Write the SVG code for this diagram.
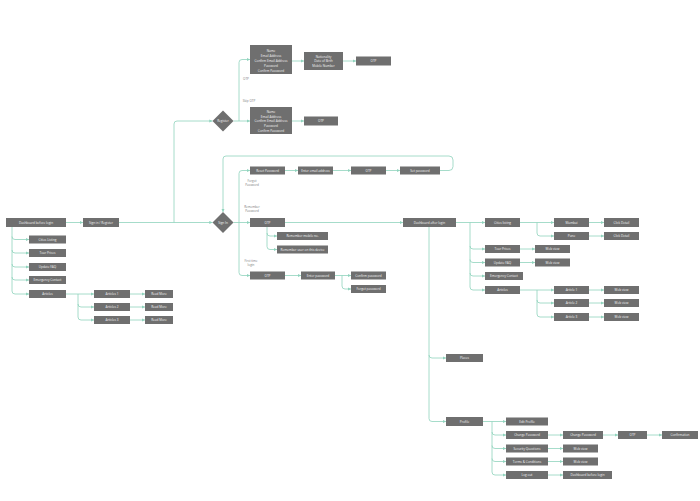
<svg xmlns="http://www.w3.org/2000/svg" width="700" height="501" viewBox="0 0 700 501">
<style>
.n rect,.n polygon{fill:#6f6f6f}
.n text{fill:#f4f4f4;font-family:"Open Sans","Liberation Sans",sans-serif;font-size:3.1px;text-anchor:middle}
.lbl{fill:#7a7a7a;font-family:"Open Sans","Liberation Sans",sans-serif;font-size:3px;text-anchor:middle}
#connectors path{fill:none;stroke:#8fd3bd;stroke-width:0.8;marker-end:url(#ar)}
</style>
<defs>
<marker id="ar" markerUnits="userSpaceOnUse" markerWidth="4" markerHeight="4" refX="3.2" refY="2" orient="auto"><path d="M0,0.4 L3.2,2 L0,3.6 Z" fill="#8fd3bd"/></marker>
</defs>
<rect width="700" height="501" fill="#ffffff"/>
<g id="connectors">
<path d="M66,222.5 H83"/>
<path d="M12,227 V291 Q12,294 15,294 H29"/>
<path d="M12,236.5 Q12,239.5 15,239.5 H29"/>
<path d="M12,250 Q12,253 15,253 H29"/>
<path d="M12,264 Q12,267 15,267 H29"/>
<path d="M12,277 Q12,280 15,280 H29"/>
<path d="M66,294 H94"/>
<path d="M78,294 V317 Q78,320 81,320 H94"/>
<path d="M78,304 Q78,307 81,307 H94"/>
<path d="M130,294 H145"/>
<path d="M130,307 H145"/>
<path d="M130,320 H145"/>
<path d="M119,222.5 H212.5"/>
<path d="M174,222.5 V124 Q174,121 177,121 H212.5"/>
<path d="M233.5,121 H250"/>
<path d="M239,121 V62.5 Q239,59.5 242,59.5 H250"/>
<path d="M292,61 H304"/>
<path d="M343,61 H356"/>
<path d="M292,121 H304"/>
<path d="M440,170.5 H449 Q453,170.5 453,166.5 V160 Q453,156 449,156 H226 Q223,156 223,159 V212"/>
<path d="M233.5,222.5 H250"/>
<path d="M239,222.5 V173.5 Q239,170.5 242,170.5 H250"/>
<path d="M239,222.5 V272.5 Q239,275.5 242,275.5 H250"/>
<path d="M285,170.5 H298"/>
<path d="M333,170.5 H351"/>
<path d="M386,170.5 H400"/>
<path d="M285,222.5 H403"/>
<path d="M267,227 V246.5 Q267,249.5 270,249.5 H277"/>
<path d="M267,233 Q267,236 270,236 H277"/>
<path d="M285,275.5 H301"/>
<path d="M335,275.5 H351"/>
<path d="M342,275.5 V286 Q342,289 345,289 H351"/>
<path d="M456,222.5 H485"/>
<path d="M470,222.5 V287 Q470,290 473,290 H485"/>
<path d="M470,246 Q470,249 473,249 H485"/>
<path d="M470,259.5 Q470,262.5 473,262.5 H485"/>
<path d="M470,273 Q470,276 473,276 H485"/>
<path d="M520,222.5 H554"/>
<path d="M537,222.5 V233 Q537,236 540,236 H554"/>
<path d="M589,222.5 H604"/>
<path d="M589,236 H604"/>
<path d="M520,249 H535"/>
<path d="M520,262.5 H535"/>
<path d="M520,290 H554"/>
<path d="M537,290 V314 Q537,317 540,317 H554"/>
<path d="M537,300 Q537,303 540,303 H554"/>
<path d="M589,290 H604"/>
<path d="M589,303 H604"/>
<path d="M589,317 H604"/>
<path d="M429,227 V418.5 Q429,421.5 432,421.5 H446"/>
<path d="M429,355 Q429,358 432,358 H446"/>
<path d="M483,421.5 H506"/>
<path d="M492,421.5 V472 Q492,475 495,475 H506"/>
<path d="M492,432 Q492,435 495,435 H506"/>
<path d="M492,445.5 Q492,448.5 495,448.5 H506"/>
<path d="M492,458.5 Q492,461.5 495,461.5 H506"/>
<path d="M548,435 H563"/>
<path d="M603,435 H618"/>
<path d="M647,435 H662"/>
<path d="M548,448.5 H563"/>
<path d="M548,461.5 H563"/>
<path d="M548,475 H563"/>
</g>
<g id="labels">
<text class="lbl" x="246" y="80">OTP</text>
<text class="lbl" x="249" y="102">Skip OTP</text>
<text class="lbl" x="252" y="181.5">Forgot</text>
<text class="lbl" x="252" y="185.5">Password</text>
<text class="lbl" x="252" y="208">Remember</text>
<text class="lbl" x="252" y="212">Password</text>
<text class="lbl" x="251" y="261.5">First time</text>
<text class="lbl" x="251" y="265.5">login</text>
</g>
<g id="dashboard-before-login" class="n"><rect x="6" y="218" width="60" height="9"/><text x="36" y="223.6">Dashboard before login</text></g>
<g id="sign-in-register" class="n"><rect x="83" y="218" width="36" height="9"/><text x="101" y="223.6">Sign in / Register</text></g>
<g id="b-cities" class="n"><rect x="29" y="235.5" width="37" height="8"/><text x="47.5" y="240.6">Cities Listing</text></g>
<g id="b-tour" class="n"><rect x="29" y="249" width="37" height="8"/><text x="47.5" y="254.1">Tour Prices</text></g>
<g id="b-faq" class="n"><rect x="29" y="263" width="37" height="8"/><text x="47.5" y="268.1">Update FAQ</text></g>
<g id="b-emergency" class="n"><rect x="29" y="276" width="37" height="8"/><text x="47.5" y="281.1">Emergency Contact</text></g>
<g id="b-articles" class="n"><rect x="29" y="290" width="37" height="8"/><text x="47.5" y="295.1">Articles</text></g>
<g id="b-article1" class="n"><rect x="94" y="290" width="36" height="8"/><text x="112" y="295.1">Articles 1</text></g>
<g id="b-article2" class="n"><rect x="94" y="303" width="36" height="8"/><text x="112" y="308.1">Articles 2</text></g>
<g id="b-article3" class="n"><rect x="94" y="316" width="36" height="8"/><text x="112" y="321.1">Articles 3</text></g>
<g id="b-read1" class="n"><rect x="145" y="290" width="28" height="8"/><text x="159" y="295.1">Read More</text></g>
<g id="b-read2" class="n"><rect x="145" y="303" width="28" height="8"/><text x="159" y="308.1">Read More</text></g>
<g id="b-read3" class="n"><rect x="145" y="316" width="28" height="8"/><text x="159" y="321.1">Read More</text></g>
<g id="register" class="n"><polygon points="223,110.5 233.5,121 223,131.5 212.5,121"/><text x="223" y="122.1">Register</text></g>
<g id="reg-form-otp" class="n"><rect x="250" y="45" width="42" height="29"/><text x="271" y="51.5">Name</text><text x="271" y="56.5">Email Address</text><text x="271" y="61.5">Confirm Email Address</text><text x="271" y="66.5">Password</text><text x="271" y="71.5">Confirm Password</text></g>
<g id="reg-details" class="n"><rect x="304" y="52" width="39" height="18"/><text x="323.5" y="57.5">Nationality</text><text x="323.5" y="62.3">Date of Birth</text><text x="323.5" y="67.1">Mobile Number</text></g>
<g id="reg-otp1" class="n"><rect x="356" y="56.5" width="35" height="9"/><text x="373.5" y="62.1">OTP</text></g>
<g id="reg-form-skip" class="n"><rect x="250" y="107" width="42" height="27"/><text x="271" y="112.8">Name</text><text x="271" y="117.6">Email Address</text><text x="271" y="122.4">Confirm Email Address</text><text x="271" y="127.2">Password</text><text x="271" y="132">Confirm Password</text></g>
<g id="reg-otp2" class="n"><rect x="304" y="116.5" width="34" height="9"/><text x="321" y="122.1">OTP</text></g>
<g id="sign-in" class="n"><polygon points="223,212 233.5,222.5 223,233 212.5,222.5"/><text x="223" y="223.6">Sign In</text></g>
<g id="reset-password" class="n"><rect x="250" y="166.5" width="35" height="8"/><text x="267.5" y="171.6">Reset Password</text></g>
<g id="enter-email" class="n"><rect x="298" y="166.5" width="35" height="8"/><text x="315.5" y="171.6">Enter email address</text></g>
<g id="forgot-otp" class="n"><rect x="351" y="166.5" width="35" height="8"/><text x="368.5" y="171.6">OTP</text></g>
<g id="set-password" class="n"><rect x="400" y="166.5" width="40" height="8"/><text x="420" y="171.6">Set password</text></g>
<g id="signin-otp" class="n"><rect x="250" y="218" width="35" height="9"/><text x="267.5" y="223.6">OTP</text></g>
<g id="remember-mobile" class="n"><rect x="277" y="232" width="51" height="8"/><text x="302.5" y="237.1">Remember mobile no.</text></g>
<g id="remember-device" class="n"><rect x="277" y="245.5" width="51" height="8"/><text x="302.5" y="250.6">Remember user on this device</text></g>
<g id="first-otp" class="n"><rect x="250" y="271.5" width="35" height="8"/><text x="267.5" y="276.6">OTP</text></g>
<g id="enter-password" class="n"><rect x="301" y="271.5" width="34" height="8"/><text x="318" y="276.6">Enter password</text></g>
<g id="confirm-password" class="n"><rect x="351" y="271.5" width="35" height="8"/><text x="368.5" y="276.6">Confirm password</text></g>
<g id="forgot-password" class="n"><rect x="351" y="285" width="35" height="8"/><text x="368.5" y="290.1">Forgot password</text></g>
<g id="dashboard-after-login" class="n"><rect x="403" y="218" width="53" height="9"/><text x="429.5" y="223.6">Dashboard after login</text></g>
<g id="a-cities" class="n"><rect x="485" y="218" width="35" height="9"/><text x="502.5" y="223.6">Cities listing</text></g>
<g id="a-mumbai" class="n"><rect x="554" y="218" width="35" height="9"/><text x="571.5" y="223.6">Mumbai</text></g>
<g id="a-pune" class="n"><rect x="554" y="232" width="35" height="8"/><text x="571.5" y="237.1">Pune</text></g>
<g id="a-click1" class="n"><rect x="604" y="218" width="35" height="9"/><text x="621.5" y="223.6">Click Detail</text></g>
<g id="a-click2" class="n"><rect x="604" y="232" width="35" height="8"/><text x="621.5" y="237.1">Click Detail</text></g>
<g id="a-tour" class="n"><rect x="485" y="245" width="35" height="8"/><text x="502.5" y="250.1">Tour Prices</text></g>
<g id="a-tour-web" class="n"><rect x="535" y="245" width="35" height="8"/><text x="552.5" y="250.1">Web view</text></g>
<g id="a-faq" class="n"><rect x="485" y="258.5" width="35" height="8"/><text x="502.5" y="263.6">Update FAQ</text></g>
<g id="a-faq-web" class="n"><rect x="535" y="258.5" width="35" height="8"/><text x="552.5" y="263.6">Web view</text></g>
<g id="a-emergency" class="n"><rect x="485" y="272" width="38" height="8"/><text x="504" y="277.1">Emergency Contact</text></g>
<g id="a-articles" class="n"><rect x="485" y="286" width="35" height="8"/><text x="502.5" y="291.1">Articles</text></g>
<g id="a-article1" class="n"><rect x="554" y="286" width="35" height="8"/><text x="571.5" y="291.1">Article 1</text></g>
<g id="a-article2" class="n"><rect x="554" y="299" width="35" height="8"/><text x="571.5" y="304.1">Article 2</text></g>
<g id="a-article3" class="n"><rect x="554" y="313" width="35" height="8"/><text x="571.5" y="318.1">Article 3</text></g>
<g id="a-web1" class="n"><rect x="604" y="286" width="35" height="8"/><text x="621.5" y="291.1">Web view</text></g>
<g id="a-web2" class="n"><rect x="604" y="299" width="35" height="8"/><text x="621.5" y="304.1">Web view</text></g>
<g id="a-web3" class="n"><rect x="604" y="313" width="35" height="8"/><text x="621.5" y="318.1">Web view</text></g>
<g id="places" class="n"><rect x="446" y="354" width="37" height="8"/><text x="464.5" y="359.1">Places</text></g>
<g id="profile" class="n"><rect x="446" y="417" width="37" height="9"/><text x="464.5" y="422.6">Profile</text></g>
<g id="edit-profile" class="n"><rect x="506" y="417.5" width="42" height="8"/><text x="527" y="422.6">Edit Profile</text></g>
<g id="change-password" class="n"><rect x="506" y="431" width="42" height="8"/><text x="527" y="436.1">Change Password</text></g>
<g id="security" class="n"><rect x="506" y="444.5" width="42" height="8"/><text x="527" y="449.6">Security Questions</text></g>
<g id="terms" class="n"><rect x="506" y="457.5" width="42" height="8"/><text x="527" y="462.6">Terms &amp; Conditions</text></g>
<g id="logout" class="n"><rect x="506" y="471" width="42" height="8"/><text x="527" y="476.1">Log out</text></g>
<g id="change-password-2" class="n"><rect x="563" y="431" width="40" height="8"/><text x="583" y="436.1">Change Password</text></g>
<g id="cp-otp" class="n"><rect x="618" y="431" width="29" height="8"/><text x="632.5" y="436.1">OTP</text></g>
<g id="confirmation" class="n"><rect x="662" y="431" width="36" height="8"/><text x="680" y="436.1">Confirmation</text></g>
<g id="security-web" class="n"><rect x="563" y="444.5" width="35" height="8"/><text x="580.5" y="449.6">Web view</text></g>
<g id="terms-web" class="n"><rect x="563" y="457.5" width="35" height="8"/><text x="580.5" y="462.6">Web view</text></g>
<g id="logout-dashboard" class="n"><rect x="563" y="471" width="49" height="8"/><text x="587.5" y="476.1">Dashboard before login</text></g>
</svg>
